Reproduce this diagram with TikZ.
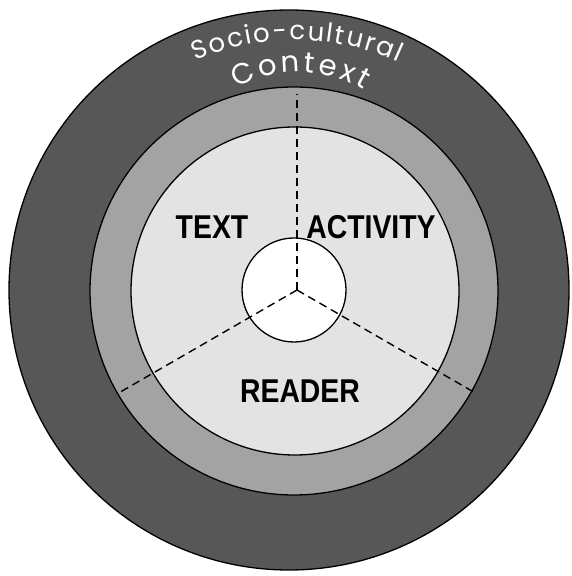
\documentclass[tikz,border=0pt]{standalone}
\usepackage{fontspec}
\setmainfont{Liberation Sans}
\newfontfamily\arcfont{Poppins}
\usetikzlibrary{calc,decorations.text}

\definecolor{contextgray}{gray}{0.34}
\definecolor{bandgray}{gray}{0.64}
\definecolor{coregray}{gray}{0.89}

\tikzset{
  ring/.style={draw=black, line width=1.3pt},
  spoke/.style={dash pattern=on 8pt off 5pt, line width=1.4pt},
  sector/.style={font=\fontsize{33}{33}\selectfont\bfseries, xscale=0.86, inner sep=0pt},
  arclabel/.style={decorate, decoration={text along path, text align={fit to path}, text={#1}}},
}

\begin{document}
\begin{tikzpicture}[x=1pt,y=1pt]
  \useasboundingbox (0,0) rectangle (571,576);

  % rings, outside in
  \fill[white] (0,0) rectangle (571,576);
  \draw[ring, fill=contextgray] (289,286) circle[radius=280];
  \draw[ring, fill=bandgray]    (294,285) circle[radius=204];
  \draw[ring, fill=coregray]    (295,285) circle[radius=164];
  \draw[ring, fill=white]       (294,286) circle[radius=52];

  % three dashed spokes from the hub
  \coordinate (hub) at (297,286);
  \coordinate (up)    at ($(hub)+(90:196)$);
  \coordinate (left)  at ($(hub)+(210:203)$);
  \coordinate (right) at ($(hub)+(330:203)$);
  \draw[spoke] (hub) -- (up);
  \draw[spoke] (hub) -- (left);
  \draw[spoke] (hub) -- (right);

  % sector labels
  \node[sector] (text)     at (212,349)   {TEXT};
  \node[sector] (activity) at (371,349)   {ACTIVITY};
  \node[sector] (reader)   at (300,184.5) {READER};

  % curved label in the outer ring
  \coordinate (arcA) at (295,287);
  \coordinate (arcB) at (298,377);
  \path[arclabel={|\arcfont\fontsize{26}{26}\selectfont\color{white}|Socio-cultural}]
    ($(arcA)+(113.5:249)$) arc[start angle=113.5, end angle=65.5, radius=249];
  \path[arclabel={|\arcfont\fontsize{29}{29}\selectfont\color{white}|Context}]
    ($(arcB)+(119:127)$) arc[start angle=119, end angle=59, radius=127];
\end{tikzpicture}
\end{document}
